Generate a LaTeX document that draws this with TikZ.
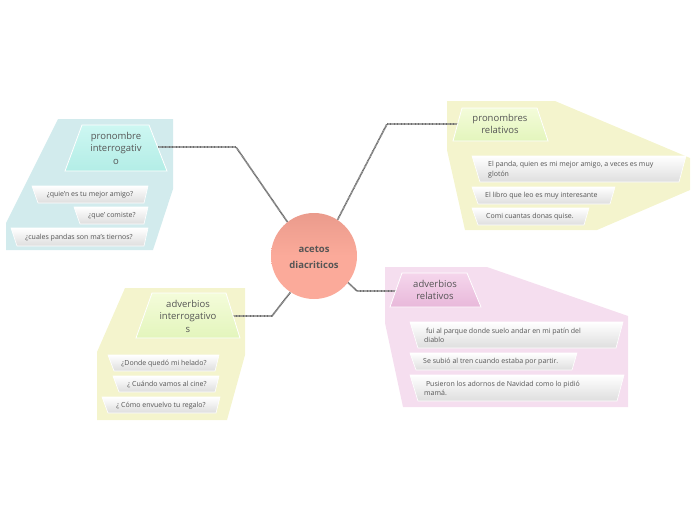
\documentclass[tikz,border=0pt]{standalone}
\usepackage{fontspec}
\setmainfont{Open Sans}
\definecolor{tc}{HTML}{555555}
\definecolor{cg}{HTML}{6E6E6E}
\definecolor{subg}{HTML}{DEDEDE}
\definecolor{tealbg}{HTML}{D2EBED}
\definecolor{tealhi}{HTML}{CDF7F2}
\definecolor{tealho}{HTML}{B3EDE6}
\definecolor{yelbg}{HTML}{F4F4CD}
\definecolor{yelhi}{HTML}{F4FCDA}
\definecolor{yelho}{HTML}{E3F5BC}
\definecolor{pinkbg}{HTML}{F5DEEF}
\definecolor{pinkhi}{HTML}{F5D6EC}
\definecolor{pinkho}{HTML}{E8B8DA}
\definecolor{circt}{HTML}{EA9B8C}
\definecolor{circb}{HTML}{FBAA9A}
\begin{document}
\begin{tikzpicture}[x=1pt,y=-1pt,
  txt/.style={text=tc, font=\fontsize{7}{9.5}\selectfont, inner sep=0pt, align=left},
  headtxt/.style={text=tc, font=\fontsize{9.5}{12.5}\selectfont, align=center, inner sep=0pt},
  conn/.style={draw=cg, line width=1.7pt, dash pattern=on 0.9pt off 0.5pt},
  subbox/.style={top color=white, bottom color=subg, draw=white, line width=0.6pt},
  headbox/.style={draw=white, line width=0.8pt}]
\useasboundingbox (0,0) rectangle (696,520);

% backgrounds
\fill[tealbg] (58,119) -- (173,119) -- (173,189) -- (153,250) -- (6,250) -- (6,223) -- cycle;
\fill[yelbg] (447,101) -- (555,101) -- (690,158) -- (690,190) -- (597,230) -- (465,230) -- (447,150) -- cycle;
\fill[yelbg] (125,288) -- (245,288) -- (245,355) -- (227,420) -- (97,420) -- (97,352) -- cycle;
\fill[pinkbg] (385,267) -- (487,267) -- (628,316) -- (628,407) -- (403,407) -- (385,323) -- cycle;

% connectors
\coordinate (c1a) at (236,147);
\coordinate (c2a) at (387,124);
\coordinate (c3a) at (272,316);
\coordinate (c4a) at (357,291);
\node[circle, minimum size=86pt, inner sep=0pt] (center) at (314,256) {};
\node[inner sep=0pt] (h1) at (116,148) {};
\node[inner sep=0pt] (h2) at (500,124) {};
\node[inner sep=0pt] (h3) at (188,316) {};
\node[inner sep=0pt] (h4) at (435,290) {};
\draw[conn] (158,147) -- (c1a) -- (center.128);
\draw[conn] (458,124) -- (c2a) -- (center.57);
\draw[conn] (232,316) -- (c3a) -- (center.237);
\draw[conn] (center.-38) -- (c4a) -- (398,291);

% center circle
\shade[top color=circt, bottom color=circb, middle color=circb] (center.center) circle (43);
\node[text=tc, font=\fontsize{9.5}{15.5}\selectfont\bfseries, align=center] at (314,257.5) {acetos\\diacriticos};

% headings
\shade[headbox, top color=tealhi, bottom color=tealho] (82,125) -- (149,125) -- (167,171) -- (65,171) -- cycle;
\node[headtxt] at (h1) {pronombre\\interrogativ\\o};
\shade[headbox, top color=yelhi, bottom color=yelho] (462,108) -- (537,108) -- (548,141) -- (453,141) -- cycle;
\node[headtxt] at (h2) {pronombres\\relativos};
\shade[headbox, top color=yelhi, bottom color=yelho] (152,293) -- (226,293) -- (240,338) -- (136,338) -- cycle;
\node[headtxt] at (h3) {adverbios\\interrogativo\\s};
\shade[headbox, top color=pinkhi, bottom color=pinkho] (402,273) -- (467,273) -- (481,307) -- (390,307) -- cycle;
\node[headtxt] at (h4) {adverbios\\relativos};

% sub items left-top
\shade[subbox] (32,186) -- (148,186) -- (144,203) -- (38,203) -- cycle;
\node[txt] (s11) at (90,195) {¿quie'n es tu mejor amigo?};
\shade[subbox] (74,207) -- (148,207) -- (144,224) -- (80,224) -- cycle;
\node[txt] (s12) at (112,216) {¿que' comiste?};
\shade[subbox] (11,228) -- (148,228) -- (144,246) -- (17,246) -- cycle;
\node[txt] (s13) at (79,237.5) {¿cuales pandas son ma's tiernos?};

% sub items right-top
\shade[subbox] (472,156) -- (686,156) -- (679,182) -- (480,182) -- cycle;
\node[txt, anchor=west] (s21) at (488,169.5) {El panda, quien es mi mejor amigo, a veces es muy\\glotón};
\shade[subbox] (472,187) -- (615,187) -- (610,204) -- (478,204) -- cycle;
\node[txt, anchor=west] (s22) at (485,196) {El libro que leo es muy interesante};
\shade[subbox] (472,208) -- (589,208) -- (584,225) -- (478,225) -- cycle;
\node[txt, anchor=west] (s23) at (486,217) {Comi cuantas donas quise.};

% sub items left-bottom
\shade[subbox] (108,355) -- (219,355) -- (215,371) -- (114,371) -- cycle;
\node[txt] (s31) at (164,363.5) {¿Donde quedó mi helado?};
\shade[subbox] (113,376) -- (219,376) -- (215,392) -- (119,392) -- cycle;
\node[txt] (s32) at (167,384.5) {¿ Cuándo vamos al cine?};
\shade[subbox] (102,397) -- (220,397) -- (216,413) -- (108,413) -- cycle;
\node[txt] (s33) at (161,406) {¿ Cómo envuelvo tu regalo?};

% sub items right-bottom
\shade[subbox] (410,322) -- (623,322) -- (616,348) -- (418,348) -- cycle;
\node[txt, anchor=west] (s41) at (424,335.5) {\ fui al parque donde suelo andar en mi patín del\\diablo};
\shade[subbox] (410,353) -- (577,353) -- (572,370) -- (416,370) -- cycle;
\node[txt, anchor=west] (s42) at (423,362) {Se subió al tren cuando estaba por partir.};
\shade[subbox] (410,375) -- (624,375) -- (617,401) -- (418,401) -- cycle;
\node[txt, anchor=west] (s43) at (424,388.5) {\ Pusieron los adornos de Navidad como lo pidió\\mamá.};
\end{tikzpicture}
\end{document}
